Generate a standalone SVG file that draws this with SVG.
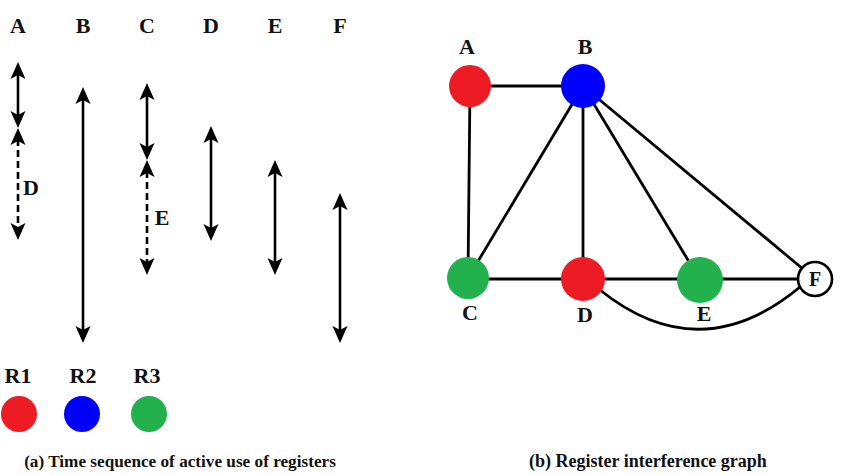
<svg xmlns="http://www.w3.org/2000/svg" width="855" height="475" viewBox="0 0 855 475">
<style>
text{font-family:"Liberation Serif","Times New Roman",serif;font-weight:bold;fill:#111;text-anchor:middle}
.lbl{font-size:22px}
.cap{font-size:18px}
.arr{stroke:#000;stroke-width:2.6;fill:none;marker-start:url(#ah);marker-end:url(#ah)}
.dash{stroke-dasharray:7 4}
.edge{stroke:#000;stroke-width:2.8;fill:none}
.red{fill:#ED1C24}.blue{fill:#0000FF}.green{fill:#22B14C}
</style>
<defs>
<marker id="ah" viewBox="-5 -8 19 16" refX="2" refY="0" markerWidth="19" markerHeight="16" markerUnits="userSpaceOnUse" orient="auto-start-reverse">
<path d="M-4,-7.5 L13,0 L-4,7.5 L0,0 Z" fill="#000"/>
</marker>
</defs>
<g id="timeline">
<g id="col-labels">
<text class="lbl" x="18" y="33">A</text>
<text class="lbl" x="83" y="33">B</text>
<text class="lbl" x="147" y="33">C</text>
<text class="lbl" x="211" y="33">D</text>
<text class="lbl" x="275" y="33">E</text>
<text class="lbl" x="340" y="33">F</text>
</g>
<g id="arrows">
<line class="arr" x1="18" y1="73" x2="18" y2="117"/>
<line class="arr dash" x1="18" y1="139" x2="18" y2="229"/>
<line class="arr" x1="83" y1="98" x2="83" y2="332"/>
<line class="arr" x1="147" y1="94" x2="147" y2="149"/>
<line class="arr dash" x1="147" y1="171" x2="147" y2="264"/>
<line class="arr" x1="211" y1="137" x2="211" y2="230"/>
<line class="arr" x1="275" y1="171" x2="275" y2="264"/>
<line class="arr" x1="340" y1="204" x2="340" y2="332"/>
</g>
<text class="lbl" x="31" y="195">D</text>
<text class="lbl" x="162" y="225">E</text>
</g>
<g id="legend">
<g id="R1"><text class="lbl" x="18" y="383">R1</text><circle class="red" cx="19" cy="414" r="18"/></g>
<g id="R2"><text class="lbl" x="83" y="383">R2</text><circle class="blue" cx="82" cy="414" r="18"/></g>
<g id="R3"><text class="lbl" x="147" y="383">R3</text><circle class="green" cx="149" cy="414" r="18"/></g>
</g>
<text class="cap" style="font-size:17.2px" x="180" y="467">(a) Time sequence of active use of registers</text>
<g id="connectors">
<line class="edge" x1="470" y1="86" x2="583" y2="86"/>
<line class="edge" x1="470" y1="86" x2="468" y2="278"/>
<line class="edge" x1="583" y1="86" x2="468" y2="278"/>
<line class="edge" x1="583" y1="86" x2="583" y2="279"/>
<line class="edge" x1="583" y1="86" x2="700" y2="280"/>
<line class="edge" x1="583" y1="86" x2="815" y2="279"/>
<line class="edge" x1="468" y1="279" x2="815" y2="279"/>
<path class="edge" d="M600,290 Q700,370 800,287"/>
</g>
<g id="node-A"><circle class="red" cx="470" cy="86" r="21"/><text class="lbl" x="467" y="54">A</text></g>
<g id="node-B"><circle class="blue" cx="583" cy="86" r="22"/><text class="lbl" x="585" y="54">B</text></g>
<g id="node-C"><circle class="green" cx="468" cy="278" r="21"/><text class="lbl" x="470" y="320">C</text></g>
<g id="node-D"><circle class="red" cx="583" cy="279" r="22"/><text class="lbl" x="585" y="322">D</text></g>
<g id="node-E"><circle class="green" cx="700" cy="280" r="23"/><text class="lbl" x="704" y="321">E</text></g>
<g id="node-F"><circle cx="815" cy="279" r="17" fill="#fff" stroke="#000" stroke-width="2.6"/><text class="lbl" style="font-size:20px" x="815" y="286">F</text></g>
<text class="cap" x="648" y="467">(b) Register interference graph</text>
</svg>
